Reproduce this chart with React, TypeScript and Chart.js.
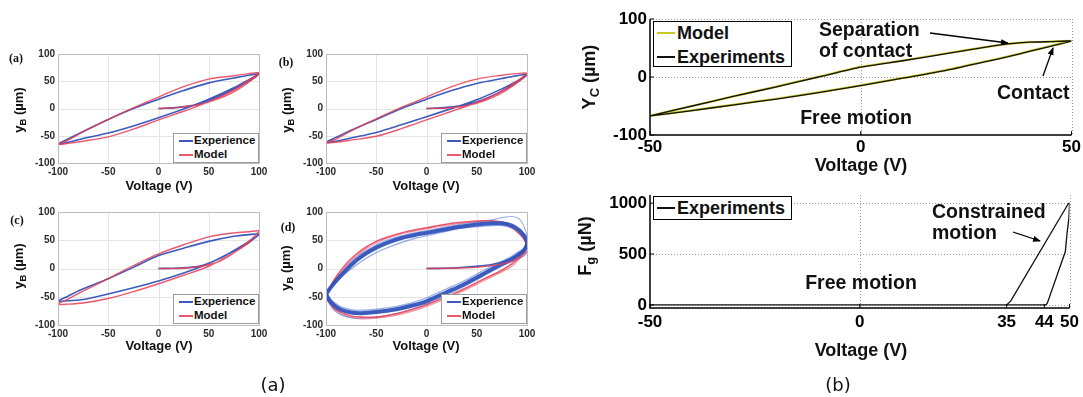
import React, { useEffect, useRef } from "react";
import { Chart, registerables } from "chart.js";

Chart.register(...registerables);

const FIG_W = 1083;
const FIG_H = 397;
const SANS = "'Liberation Sans', Arial, Helvetica, sans-serif";
const SERIF = "'Liberation Serif', 'Times New Roman', serif";
const CAPTION = "'DejaVu Sans', 'Open Sans', sans-serif";

// ================= (a) y_B versus voltage =================
// voltage path of panels (a)(b)(c): first loading, descending branch, ascending branch
const LOOP_V = [0, 20, 40, 60, 80, 100, 90, 75, 50, 25, 0, -25, -50, -75, -90, -100, -90, -75, -50, -25, 0, 25, 50, 75, 90, 100];

const A_EXPERIENCE = [0, 2, 8, 22, 40, 63, 61, 56, 47, 33, 17, 0, -20, -42, -56, -65, -62, -55, -45, -32, -17, -1, 17, 38, 53, 63];
const A_MODEL = [0, 2, 7, 18, 36, 65, 64, 60, 54, 40, 21, 1, -20, -43, -58, -66, -64, -60, -52, -38, -21, -5, 12, 34, 52, 65];

const B_EXPERIENCE = [0, 2, 7, 19, 37, 62, 60, 55, 46, 33, 17, 0, -20, -40, -53, -62, -60, -54, -44, -30, -15, 0, 16, 36, 50, 62];
const B_MODEL = [0, 1, 5, 16, 34, 64, 64, 61, 54, 40, 21, 2, -19, -41, -56, -63, -62, -58, -51, -37, -21, -5, 11, 32, 50, 64];

const C_EXPERIENCE = [0, 1, 4, 17, 37, 60, 60, 57, 48, 36, 23, 2, -18, -36, -49, -58, -57, -55, -45, -34, -22, -8, 9, 31, 46, 60];
const C_MODEL = [0, 0, 3, 12, 34, 66, 65, 63, 56, 42, 26, 5, -18, -40, -54, -63, -63, -61, -53, -41, -27, -12, 4, 28, 46, 66];

// panel (d): cycles at higher frequency
const D_LOOP_V = [-100, -95, -90, -80, -70, -60, -50, -40, -25, -10, 0, 15, 30, 50, 65, 75, 85, 92, 97, 100,
  100, 97, 92, 85, 75, 60, 50, 35, 20, 0, -15, -30, -50, -65, -75, -85, -92, -97, -100];
const D_EXPERIENCE_1 = [-45, -33, -22, -3, 14, 27, 37, 45, 54, 60, 63, 68, 73, 78, 80, 80, 76, 68, 58, 47,
  42, 32, 25, 17, 8, -6, -16, -30, -42, -58, -66, -72, -77, -79, -78, -73, -65, -55, -45];
const D_EXPERIENCE_2 = [-50, -35, -20, 2, 20, 32, 42, 50, 58, 64, 67, 72, 77, 82, 86, 90, 92, 88, 75, 55,
  30, 22, 18, 12, 4, -10, -20, -34, -47, -63, -72, -80, -86, -88, -87, -82, -74, -62, -50];
const D_EXPERIENCE_3 = [-42, -32, -24, -8, 6, 18, 28, 36, 46, 54, 58, 64, 70, 74, 76, 76, 72, 64, 55, 45,
  45, 36, 30, 22, 13, 0, -10, -24, -36, -52, -61, -67, -72, -74, -73, -68, -60, -52, -42];
const D_MODEL_1 = [-47, -30, -15, 8, 25, 38, 48, 55, 63, 69, 72, 77, 81, 84, 84, 80, 72, 62, 52, 42,
  42, 30, 20, 8, -3, -16, -25, -38, -50, -64, -73, -80, -86, -86, -84, -78, -70, -58, -47];
const D_MODEL_2 = [-50, -34, -19, 4, 21, 35, 45, 53, 61, 67, 70, 75, 79, 83, 85, 83, 76, 66, 55, 44,
  40, 27, 16, 4, -6, -19, -28, -41, -53, -67, -76, -83, -88, -89, -87, -81, -72, -60, -50];
const D_INIT_V = [0, 25, 50, 65, 80, 92, 100];
const D_EXPERIENCE_INIT = [0, 1, 4, 7, 14, 25, 42];
const D_MODEL_INIT = [0, 0.5, 2, 5, 10, 18, 30];

const LEFT_TICKS = [-100, -50, 0, 50, 100];

// ================= (b) Y_C and F_g versus voltage =================
const YC_V = [-50, -40, -30, -20, -10, 0, 10, 20, 30, 35, 40, 45, 50, 45, 40, 35, 30, 20, 10, 0, -10, -20, -30, -40, -50];
const YC_EXPERIMENTS = [-67, -58, -48, -38, -27, -15, -2, 11, 27, 35, 44, 53, 62, 61, 60, 57, 52, 40, 28, 17, 0, -17, -33, -50, -67];
const YC_MODEL = [-67, -57.5, -47.5, -37.5, -26.5, -14.5, -1.5, 11.5, 27.5, 35.5, 44.5, 53.5, 62, 61, 60, 57, 52, 40.5, 28.5, 17.5, 0.5, -16.5, -33, -50, -67];

const FG_V = [-50, -25, 0, 25, 35, 36, 49.2, 49.7, 50, 49.85, 49.4, 49, 44.7, 44.4, 30, 0, -25, -50];
const FG_EXPERIMENTS = [0, 0, 0, 0, 0, 40, 960, 995, 1000, 855, 700, 525, 17, 0, 0, 0, 0, 0];

const YC_X_TICKS = [-50, 0, 50];
const YC_Y_TICKS = [-100, 0, 100];
const FG_X_TICKS = [-50, 0, 35, 44, 50];
const FG_Y_TICKS = [0, 500, 1000];

const BLUE = "rgba(50, 82, 186, 0.95)";
const BLUE_LIGHT = "rgba(95, 128, 215, 0.6)";
const RED = "rgba(232, 60, 84, 0.85)";
const RED_LIGHT = "rgba(238, 105, 125, 0.7)";
const OLIVE = "#c9c825";

type Series = { xs: number[]; ys: number[]; color: string; width: number; order: number; tension?: number };
type Spec = {
  plot: [number, number, number, number];
  xRange: [number, number];
  yRange: [number, number];
  xTicks: number[];
  yTicks: number[];
  xGrid: number[];
  yGrid: number[];
  style: "soft" | "matlab";
  font: number;
  xPad: number;
  yPad: number;
  series: Series[];
};

const Y_AXIS_W = 40;
const X_AXIS_H = 30;

function decor(spec: Spec) {
  return {
    id: "decor",
    beforeDatasetsDraw(chart: any) {
      const { ctx, chartArea: a, scales } = chart;
      const sx = scales.x;
      const sy = scales.y;
      ctx.save();
      if (spec.style === "soft") {
        ctx.strokeStyle = "#e4e4e4";
        ctx.lineWidth = 1;
      } else {
        ctx.strokeStyle = "#9a9a9a";
        ctx.lineWidth = 1;
        ctx.setLineDash([1, 2]);
      }
      spec.xGrid.forEach((v) => {
        const p = Math.round(sx.getPixelForValue(v)) + 0.5;
        ctx.beginPath();
        ctx.moveTo(p, a.top);
        ctx.lineTo(p, a.bottom);
        ctx.stroke();
      });
      spec.yGrid.forEach((v) => {
        const p = Math.round(sy.getPixelForValue(v)) + 0.5;
        ctx.beginPath();
        ctx.moveTo(a.left, p);
        ctx.lineTo(a.right, p);
        ctx.stroke();
      });
      ctx.restore();
    },
    afterDatasetsDraw(chart: any) {
      const { ctx, chartArea: a, scales } = chart;
      ctx.save();
      if (spec.style === "soft") {
        ctx.strokeStyle = "#bdbdbd";
        ctx.lineWidth = 1;
        ctx.strokeRect(Math.round(a.left) + 0.5, Math.round(a.top) + 0.5, Math.round(a.right - a.left), Math.round(a.bottom - a.top));
      } else {
        ctx.strokeStyle = "#000";
        ctx.lineWidth = 1.5;
        ctx.beginPath();
        ctx.moveTo(a.left, a.top);
        ctx.lineTo(a.left, a.bottom);
        ctx.lineTo(a.right, a.bottom);
        ctx.stroke();
        ctx.lineWidth = 1;
        spec.xTicks.forEach((v) => {
          const p = scales.x.getPixelForValue(v);
          ctx.beginPath();
          ctx.moveTo(p, a.bottom);
          ctx.lineTo(p, a.bottom - 4);
          ctx.stroke();
        });
        spec.yTicks.forEach((v) => {
          const p = scales.y.getPixelForValue(v);
          ctx.beginPath();
          ctx.moveTo(a.left, p);
          ctx.lineTo(a.left + 4, p);
          ctx.stroke();
        });
      }
      ctx.restore();
    },
  };
}

function Panel({ spec }: { spec: Spec }) {
  const ref = useRef<HTMLCanvasElement>(null);
  useEffect(() => {
    const [l, t, r, b] = spec.plot;
    const tickColor = spec.style === "soft" ? "#2a2a2a" : "#000";
    const tickFont = { family: SANS, size: spec.font, weight: "bold" as const };
    const chart = new Chart(ref.current!, {
      type: "scatter",
      data: {
        datasets: spec.series.map((s) => ({
          data: s.xs.map((x, j) => ({ x, y: s.ys[j] })),
          showLine: true,
          borderColor: s.color,
          backgroundColor: s.color,
          borderWidth: s.width,
          pointRadius: 0,
          tension: s.tension ?? 0.3,
          order: s.order,
          fill: false,
        })),
      },
      options: {
        responsive: false,
        animation: false,
        events: [],
        layout: { padding: { left: l - Y_AXIS_W, top: t, right: FIG_W - r, bottom: FIG_H - b - X_AXIS_H } },
        plugins: { legend: { display: false }, tooltip: { enabled: false } },
        scales: {
          x: {
            type: "linear",
            min: spec.xRange[0],
            max: spec.xRange[1],
            afterFit(s: any) { s.height = X_AXIS_H; },
            afterBuildTicks(s: any) { s.ticks = spec.xTicks.map((v) => ({ value: v })); },
            grid: { display: false, drawTicks: false },
            border: { display: false },
            ticks: { autoSkip: false, maxRotation: 0, padding: spec.xPad, color: tickColor, font: tickFont, callback: (v: any) => String(v) },
          },
          y: {
            type: "linear",
            min: spec.yRange[0],
            max: spec.yRange[1],
            afterFit(s: any) { s.width = Y_AXIS_W; },
            afterBuildTicks(s: any) { s.ticks = spec.yTicks.map((v) => ({ value: v })); },
            grid: { display: false, drawTicks: false },
            border: { display: false },
            ticks: { autoSkip: false, padding: spec.yPad, color: tickColor, font: tickFont, callback: (v: any) => String(v) },
          },
        },
      },
      plugins: [decor(spec)],
    } as any);
    return () => chart.destroy();
  }, []);
  return <canvas ref={ref} width={FIG_W} height={FIG_H} style={{ position: "absolute", left: 0, top: 0, width: FIG_W, height: FIG_H }} />;
}

function softSpec(plot: [number, number, number, number], series: Series[]): Spec {
  return {
    plot, xRange: [-100, 100], yRange: [-100, 100], xTicks: LEFT_TICKS, yTicks: LEFT_TICKS,
    xGrid: LEFT_TICKS, yGrid: LEFT_TICKS, style: "soft", font: 10, xPad: 3, yPad: 3, series,
  };
}

const SPECS: Spec[] = [
  softSpec([58, 54, 259, 163], [
    { xs: LOOP_V, ys: A_EXPERIENCE, color: BLUE, width: 1.6, order: 2 },
    { xs: LOOP_V, ys: A_MODEL, color: RED, width: 1.4, order: 1 },
  ]),
  softSpec([326, 54, 527, 163], [
    { xs: LOOP_V, ys: B_EXPERIENCE, color: BLUE, width: 1.6, order: 2 },
    { xs: LOOP_V, ys: B_MODEL, color: RED, width: 1.4, order: 1 },
  ]),
  softSpec([58, 212, 259, 325], [
    { xs: LOOP_V, ys: C_EXPERIENCE, color: BLUE, width: 1.6, order: 2 },
    { xs: LOOP_V, ys: C_MODEL, color: RED, width: 1.4, order: 1 },
  ]),
  softSpec([326, 212, 527, 325], [
    { xs: D_LOOP_V, ys: D_MODEL_2, color: RED_LIGHT, width: 1.2, order: 6 },
    { xs: D_LOOP_V, ys: D_EXPERIENCE_2, color: BLUE_LIGHT, width: 1.2, order: 5 },
    { xs: D_LOOP_V, ys: D_MODEL_1, color: RED, width: 1.6, order: 4 },
    { xs: D_LOOP_V, ys: D_EXPERIENCE_3, color: BLUE_LIGHT, width: 1.4, order: 3 },
    { xs: D_LOOP_V, ys: D_EXPERIENCE_1, color: BLUE, width: 4, order: 2 },
    { xs: D_INIT_V, ys: D_EXPERIENCE_INIT, color: BLUE, width: 1.6, order: 1 },
    { xs: D_INIT_V, ys: D_MODEL_INIT, color: RED, width: 1.4, order: 0 },
  ]),
  {
    plot: [650, 19, 1072, 135], xRange: [-50, 50], yRange: [-100, 100], xTicks: YC_X_TICKS, yTicks: YC_Y_TICKS,
    xGrid: [0, 50], yGrid: [0, 100], style: "matlab", font: 17, xPad: 2, yPad: 3,
    series: [
      { xs: YC_V, ys: YC_MODEL, color: OLIVE, width: 2.2, order: 2, tension: 0.2 },
      { xs: YC_V, ys: YC_EXPERIMENTS, color: "#111", width: 1.3, order: 1, tension: 0.2 },
    ],
  },
  {
    plot: [650, 195, 1072, 308], xRange: [-50, 50], yRange: [-30, 1080], xTicks: FG_X_TICKS, yTicks: FG_Y_TICKS,
    xGrid: [0, 50], yGrid: [0, 500, 1000], style: "matlab", font: 17, xPad: 4, yPad: 3,
    series: [{ xs: FG_V, ys: FG_EXPERIMENTS, color: "#111", width: 1.3, order: 1, tension: 0 }],
  },
];

type TextProps = { x: number; y: number; size: number; children: any; weight?: string; family?: string; rotate?: boolean; left?: boolean };
function T({ x, y, size, children, weight = "bold", family = SANS, rotate = false, left = false }: TextProps) {
  const tr = `translate(${left ? "0" : "-50%"}, -50%)${rotate ? " rotate(-90deg)" : ""}`;
  return (
    <div style={{ position: "absolute", left: x, top: y, transform: tr, fontSize: size, fontWeight: weight as any, fontFamily: family, whiteSpace: "nowrap", lineHeight: 1, color: "#111" }}>
      {children}
    </div>
  );
}

const Sub = ({ c }: { c: string }) => <span style={{ fontSize: "0.72em", position: "relative", top: "0.3em" }}>{c}</span>;

function Line({ x1, x2, y, color, w }: { x1: number; x2: number; y: number; color: string; w: number }) {
  return <div style={{ position: "absolute", left: x1, top: y - w / 2, width: x2 - x1, height: w, background: color }} />;
}

function Box({ l, t, w, h, border }: { l: number; t: number; w: number; h: number; border: string }) {
  return <div style={{ position: "absolute", left: l, top: t, width: w, height: h, border, background: "#fff", boxSizing: "border-box" }} />;
}

function SoftLegend({ l, t }: { l: number; t: number }) {
  return (
    <>
      <Box l={l} t={t} w={86} h={30} border="1px solid #9c9c9c" />
      <Line x1={l + 6} x2={l + 20} y={t + 8} color={BLUE} w={1.5} />
      <Line x1={l + 6} x2={l + 20} y={t + 22} color={RED} w={1.5} />
      <T x={l + 21} y={t + 8} size={11.5} left>Experience</T>
      <T x={l + 21} y={t + 22} size={11.5} left>Model</T>
    </>
  );
}

export default function App() {
  return (
    <div style={{ position: "fixed", left: 0, top: 0, width: FIG_W, height: FIG_H, background: "#fff", overflow: "hidden" }}>
      {SPECS.map((s, i) => <Panel key={i} spec={s} />)}

      {/* left figure annotations */}
      <T x={16} y={58} size={12} family={SERIF}>(a)</T>
      <T x={286} y={62} size={12} family={SERIF}>(b)</T>
      <T x={17} y={220} size={12} family={SERIF}>(c)</T>
      <T x={288} y={227} size={12} family={SERIF}>(d)</T>

      <T x={19} y={110} size={13} rotate>y<Sub c="B" /> (µm)</T>
      <T x={287} y={110} size={13} rotate>y<Sub c="B" /> (µm)</T>
      <T x={19} y={266} size={13} rotate>y<Sub c="B" /> (µm)</T>
      <T x={286} y={268} size={13} rotate>y<Sub c="B" /> (µm)</T>

      <T x={159} y={185} size={13}>Voltage (V)</T>
      <T x={426} y={185} size={13}>Voltage (V)</T>
      <T x={159} y={345} size={13}>Voltage (V)</T>
      <T x={426} y={345} size={13}>Voltage (V)</T>

      <SoftLegend l={173} t={133} />
      <SoftLegend l={441} t={133} />
      <SoftLegend l={173} t={294} />
      <SoftLegend l={441} t={294} />

      {/* right figure annotations */}
      <T x={589} y={77} size={18} rotate>Y<Sub c="C" /> (µm)</T>
      <T x={585} y={246} size={18} rotate>F<Sub c="g" /> (µN)</T>
      <T x={861} y={165} size={18}>Voltage (V)</T>
      <T x={861} y={350} size={18}>Voltage (V)</T>

      <Box l={653} t={21} w={139} h={46} border="1.5px solid #000" />
      <Line x1={657} x2={675} y={33} color={OLIVE} w={1.2} />
      <Line x1={657} x2={675} y={57} color="#111" w={1.2} />
      <T x={677} y={33} size={18} left>Model</T>
      <T x={677} y={57} size={18} left>Experiments</T>

      <Box l={653} t={196} w={139} h={24} border="1.5px solid #000" />
      <Line x1={657} x2={675} y={208} color="#111" w={1.2} />
      <T x={677} y={208} size={18} left>Experiments</T>

      <T x={819} y={30} size={19.5} left>Separation</T>
      <T x={819} y={51} size={19.5} left>of contact</T>
      <T x={997} y={93} size={19.5} left>Contact</T>
      <T x={856} y={118} size={19.5}>Free motion</T>
      <T x={932} y={212} size={19.5} left>Constrained</T>
      <T x={932} y={233} size={19.5} left>motion</T>
      <T x={861} y={283} size={19.5}>Free motion</T>

      <svg width={FIG_W} height={FIG_H} style={{ position: "absolute", left: 0, top: 0 }}>
        <defs>
          <marker id="ah" markerWidth="8" markerHeight="6" refX="7" refY="3" orient="auto" markerUnits="userSpaceOnUse">
            <path d="M0,0 L8,3 L0,6 Z" fill="#000" />
          </marker>
        </defs>
        <line x1={930} y1={33} x2={1008} y2={43} stroke="#000" strokeWidth={1.3} markerEnd="url(#ah)" />
        <line x1={1043} y1={76} x2={1053} y2={48} stroke="#000" strokeWidth={1.3} markerEnd="url(#ah)" />
        <line x1={1013} y1={232} x2={1040} y2={241} stroke="#000" strokeWidth={1.3} markerEnd="url(#ah)" />
      </svg>

      <T x={273} y={385} size={18} weight="normal" family={CAPTION}>(a)</T>
      <T x={838} y={385} size={18} weight="normal" family={CAPTION}>(b)</T>
    </div>
  );
}
